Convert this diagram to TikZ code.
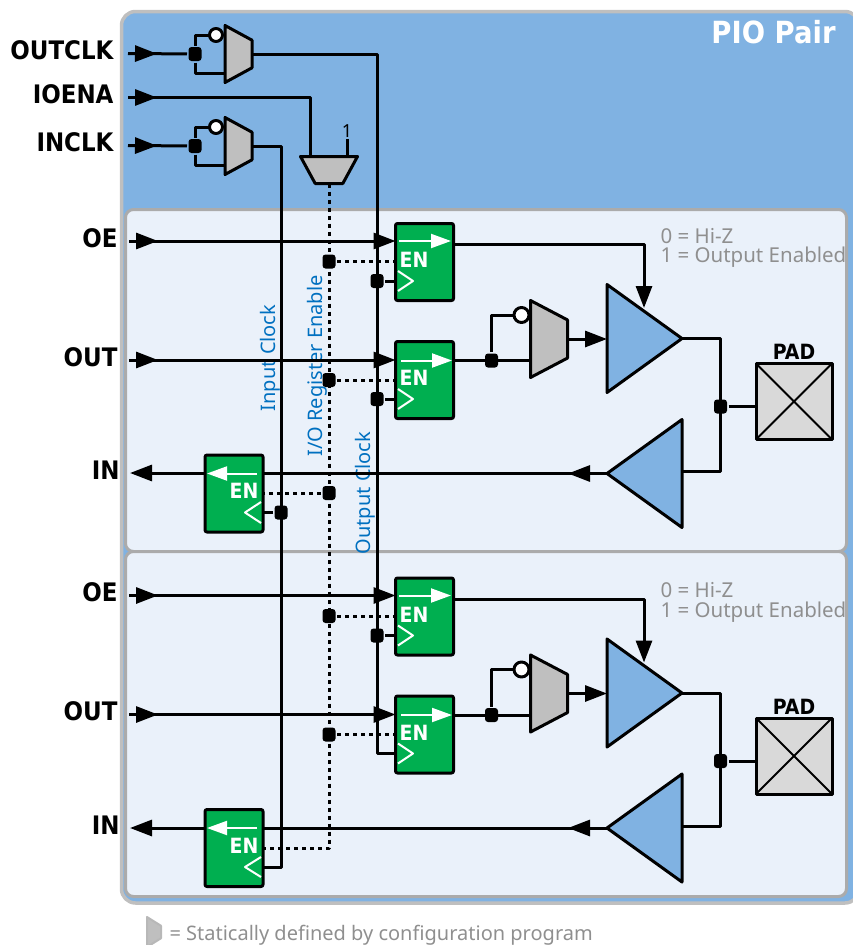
\documentclass[tikz,border=0pt]{standalone}
\usepackage{fontspec}
\setmainfont{Noto Sans}
\newfontfamily\boldface[FakeStretch=0.9]{DejaVu Sans Bold}
\usetikzlibrary{arrows.meta,shapes.geometric,decorations.markings}
\definecolor{pairblue}{HTML}{80B2E2}
\definecolor{cellblue}{HTML}{EAF1FA}
\definecolor{ffgreen}{HTML}{00AF50}
\definecolor{muxgray}{HTML}{BFBFBF}
\definecolor{padgray}{HTML}{D9D9D9}
\definecolor{notegray}{HTML}{8F8F8F}
\definecolor{wireblue}{HTML}{0070C0}
\begin{document}
\begin{tikzpicture}[x=1pt,y=-1pt,line width=3pt,line join=round,
  >={Triangle[length=22pt,width=16pt]},
  pair/.style={draw=muxgray,fill=pairblue,line width=3.5pt,rounded corners=14pt},
  cell/.style={draw=black!33,fill=cellblue,line width=3pt,rounded corners=8pt},
  sig/.style={font=\fontsize{25.5}{28}\boldface,anchor=east,inner sep=0pt,inner xsep=13pt,text height=18pt,text depth=5.4pt},
  sigcell/.style={sig,inner xsep=10pt},
  wirelabel/.style={font=\fontsize{20}{24}\selectfont,text=wireblue,rotate=90,inner sep=0pt},
  note/.style={font=\fontsize{20}{19.5}\selectfont,text=notegray,align=left,anchor=west,inner sep=0pt},
  hiz/.style={note,font=\fontsize{20.5}{19.5}\selectfont},
  ffbox/.style={draw,fill=ffgreen,rounded corners=2pt,minimum width=58pt,minimum height=77pt,inner sep=0pt,outer sep=0pt},
  en/.style={font=\fontsize{21}{24}\boldface,text=white,inner sep=0pt},
  padname/.style={font=\fontsize{21}{24}\boldface,inner sep=0pt},
  wht/.style={white,line width=2pt},
  whtarrow/.style={wht,-{Triangle[length=20pt,width=14pt]}},
  mux/.style={trapezium,draw,fill=muxgray,trapezium stretches=true,trapezium angle=62,minimum width=57pt,minimum height=27pt,inner sep=1pt,outer sep=0pt},
  bigmux/.style={mux,rotate=-90,minimum width=77pt,minimum height=37pt,trapezium angle=63},
  bubble/.style={circle,draw,fill=white,minimum size=13pt,inner sep=0pt,outer sep=0pt},
  buffer/.style={isosceles triangle,draw,fill=pairblue,isosceles triangle stretches,minimum width=108pt,minimum height=75pt,inner sep=1pt,outer sep=0pt},
  pad/.style={draw,fill=padgray,minimum size=76pt,inner sep=0pt,outer sep=0pt},
  joint/.style={fill=black,rounded corners=3pt,minimum width=13pt,minimum height=14pt,inner sep=0pt},
  enline/.style={dash pattern=on 4pt off 4pt},
  tipat/.style={postaction={decorate,decoration={markings,mark=at position #1 with {\arrow{>}}}}}]
  \useasboundingbox (0,0) rectangle (852,945);

  \draw[pair] (121.5,11.5) rectangle (859,903);
  \draw[cell] (125.5,209.5) rectangle (846.5,551.5);
  \draw[cell] (125.5,551.5) rectangle (846.5,896.5);
  \node[font=\fontsize{30.5}{34}\boldface,text=white,anchor=east,inner sep=0pt] (PAIR) at (837,32) {PIO Pair};

  \node[wirelabel] (LBi) at (270,358) {Input Clock};
  \node[wirelabel] (LBe) at (317,366) {I/O Register Enable};
  \node[wirelabel] (LBo) at (365,493) {Output Clock};
  \node[hiz] (ZOa) at (659,248) {0 = Hi-Z\\1 = Output Enabled};
  \node[hiz] (ZOb) at (659,602.5) {0 = Hi-Z\\1 = Output Enabled};

  % clocks and enable
  \node[sig] (OUTCLK) at (128,53.5) {OUTCLK};
  \node[sig] (IOENA) at (128,97.5) {IOENA};
  \node[sig] (INCLK) at (128,145.5) {INCLK};
  \node[mux,rotate=-90] (MUXa) at (238.5,54) {};
  \node[mux,rotate=-90] (MUXb) at (238.5,146) {};
  \node[mux,rotate=180] (MUXe) at (329,170) {};
  \node[bubble] (BUBa) at (216,35) {};
  \node[bubble] (BUBb) at (216,127) {};
  \node[joint] (Ja) at (195,54) {};
  \node[joint] (Jb) at (195,146) {};
  \node[inner sep=0pt,font=\fontsize{18}{20}\selectfont] (ONE) at (347,131) {1};
  \coordinate (LOa) at (225,73);
  \coordinate (LOb) at (225,165);
  \coordinate (ENin) at (310,157);
  \coordinate (ONEin) at (347,157);
  \draw[tipat=29pt] (OUTCLK.east) -- (Ja);
  \draw[tipat=29pt] (INCLK.east) -- (Jb);
  \draw (Ja) |- (BUBa);
  \draw (Ja) |- (LOa);
  \draw (Jb) |- (BUBb);
  \draw (Jb) |- (LOb);
  \draw[tipat=29pt] (IOENA.east) -| (ENin);
  \draw (ONE) -- (ONEin);

  % first pair
  \node[sigcell] (OEa) at (129,241) {OE};
  \node[sigcell] (OUTa) at (129,360) {OUT};
  \node[sigcell,inner xsep=9pt] (INa) at (130,473) {IN};
  \node[ffbox] (FFa) at (424.5,262) {};
  \node[ffbox] (FFb) at (424.5,380) {};
  \node[ffbox] (FFc) at (234,493.5) {};
  \node[en] (ENa) at (414,260) {EN};
  \node[en] (ENb) at (414,378) {EN};
  \node[en] (ENc) at (244,491) {EN};
  \draw[whtarrow] (399,241) -- (451,241);
  \draw[whtarrow] (401,360.5) -- (452,360.5);
  \draw[whtarrow] (257,473.5) -- (207,473.5);
  \draw[wht] (398,271) -- (413,281) -- (398,291);
  \draw[wht] (398,389) -- (413,399) -- (398,409);
  \draw[wht] (261,502) -- (245,512.5) -- (261,523);
  \node[bigmux] (MUXc) at (549,339) {};
  \node[bubble,minimum size=15pt] (BUBc) at (521.5,315) {};
  \node[buffer,anchor=apex] (BUFa) at (682,338.5) {};
  \node[buffer,anchor=apex,shape border rotate=180] (BUFb) at (607,473.5) {};
  \node[pad] (PADa) at (794,401.5) {};
  \draw[line width=2pt] (PADa.north west) -- (PADa.south east) (PADa.north east) -- (PADa.south west);
  \node[padname] (PNa) at (794,352) {PAD};
  \node[joint] (Jc) at (491.5,360.5) {};
  \node[joint] (Jd) at (720.5,406.5) {};
  \node[joint] (CKa) at (377,281) {};
  \node[joint] (CKb) at (377,399) {};
  \node[joint] (CKc) at (281,512.5) {};
  \node[joint] (EJa) at (329,261.5) {};
  \node[joint] (EJb) at (329,380) {};
  \node[joint] (EJc) at (329,493) {};
  \coordinate (QA) at (454,244.5);
  \coordinate (OEtip) at (644,308);
  \coordinate (QB) at (454,360.5);
  \coordinate (BOTc) at (530,360.5);
  \coordinate (TOPb) at (720.5,471.5);
  \coordinate (BUFbk) at (682,471.5);
  \draw[->,tipat=29pt] (OEa.east) -- (OEa.east -| FFa.west);
  \draw[->,tipat=29pt] (OUTa.east) -- (OUTa.east -| FFb.west);
  \draw[->] (FFc.west |- INa.east) -- (INa.east);
  \draw[tipat=39pt] (BUFb.apex) -- (BUFb.apex -| FFc.east);
  \draw[->] (QA) -| (OEtip);
  \draw (QB) -- (BOTc);
  \draw (Jc) |- (BUBc);
  \draw[->] (MUXc.top side) -- (MUXc.top side -| BUFa.west);
  \draw (BUFa.apex) -| (TOPb) -- (BUFbk);
  \draw (Jd) -- (Jd -| PADa.west);
  \draw (CKa) -- (CKa -| FFa.west);
  \draw (CKb) -- (CKb -| FFb.west);
  \draw (CKc) -- (CKc -| FFc.east);
  \draw[enline] (EJa) -- (EJa -| FFa.west);
  \draw[enline] (EJb) -- (EJb -| FFb.west);
  \draw[enline] (EJc) -- (EJc -| FFc.east);

  % second pair
  \node[sigcell] (OEb) at (129,595.5) {OE};
  \node[sigcell] (OUTb) at (129,714.5) {OUT};
  \node[sigcell,inner xsep=9pt] (INb) at (130,828) {IN};
  \node[ffbox] (FFd) at (424.5,616.5) {};
  \node[ffbox] (FFe) at (424.5,734.5) {};
  \node[ffbox] (FFf) at (234,848) {};
  \node[en] (ENd) at (414,614.5) {EN};
  \node[en] (ENe) at (414,732.5) {EN};
  \node[en] (ENf) at (244,846) {EN};
  \draw[whtarrow] (399,595.5) -- (451,595.5);
  \draw[whtarrow] (401,715) -- (452,715);
  \draw[whtarrow] (257,828) -- (207,828);
  \draw[wht] (398,625.5) -- (413,635.5) -- (398,645.5);
  \draw[wht] (398,743.5) -- (413,753.5) -- (398,763.5);
  \draw[wht] (261,857) -- (245,867) -- (261,877);
  \node[bigmux] (MUXd) at (549,693.5) {};
  \node[bubble,minimum size=15pt] (BUBd) at (521.5,669.5) {};
  \node[buffer,anchor=apex] (BUFc) at (682,693) {};
  \node[buffer,anchor=apex,shape border rotate=180] (BUFd) at (607,828) {};
  \node[pad] (PADb) at (794,756) {};
  \draw[line width=2pt] (PADb.north west) -- (PADb.south east) (PADb.north east) -- (PADb.south west);
  \node[padname] (PNb) at (794,706.5) {PAD};
  \node[joint] (Je) at (491.5,715) {};
  \node[joint] (Jf) at (720.5,761) {};
  \node[joint] (CKd) at (377,635.5) {};
  \node[joint] (EJd) at (329,616) {};
  \node[joint] (EJe) at (329,734.5) {};
  \coordinate (CKe) at (377,753.5);
  \coordinate (CKf) at (281,867);
  \coordinate (EJf) at (329,848);
  \coordinate (QC) at (454,599);
  \coordinate (OEtipb) at (644,662.5);
  \coordinate (QD) at (454,715);
  \coordinate (BOTd) at (530,715);
  \coordinate (TOPd) at (720.5,826);
  \coordinate (BUFdk) at (682,826);
  \draw[->,tipat=29pt] (OEb.east) -- (OEb.east -| FFd.west);
  \draw[->,tipat=29pt] (OUTb.east) -- (OUTb.east -| FFe.west);
  \draw[->] (FFf.west |- INb.east) -- (INb.east);
  \draw[tipat=39pt] (BUFd.apex) -- (BUFd.apex -| FFf.east);
  \draw[->] (QC) -| (OEtipb);
  \draw (QD) -- (BOTd);
  \draw (Je) |- (BUBd);
  \draw[->] (MUXd.top side) -- (MUXd.top side -| BUFc.west);
  \draw (BUFc.apex) -| (TOPd) -- (BUFdk);
  \draw (Jf) -- (Jf -| PADb.west);
  \draw (CKd) -- (CKd -| FFd.west);
  \draw[enline] (EJd) -- (EJd -| FFd.west);
  \draw[enline] (EJe) -- (EJe -| FFe.west);

  % long runs
  \draw (MUXa.top side) -| (CKe) -- (CKe -| FFe.west);
  \draw (MUXb.top side) -| (CKf) -- (CKf -| FFf.east);
  \draw[enline] (MUXe.top side) -- (EJf) -- (EJf -| FFf.east);

  \node[mux,rotate=-90,draw=black!28,line width=2pt,minimum width=30pt,minimum height=14pt,trapezium angle=55] (KEY) at (154,932) {};
  \node[note] (KEYTXT) at (168,935) {= Statically defined by configuration program};
\end{tikzpicture}
\end{document}
